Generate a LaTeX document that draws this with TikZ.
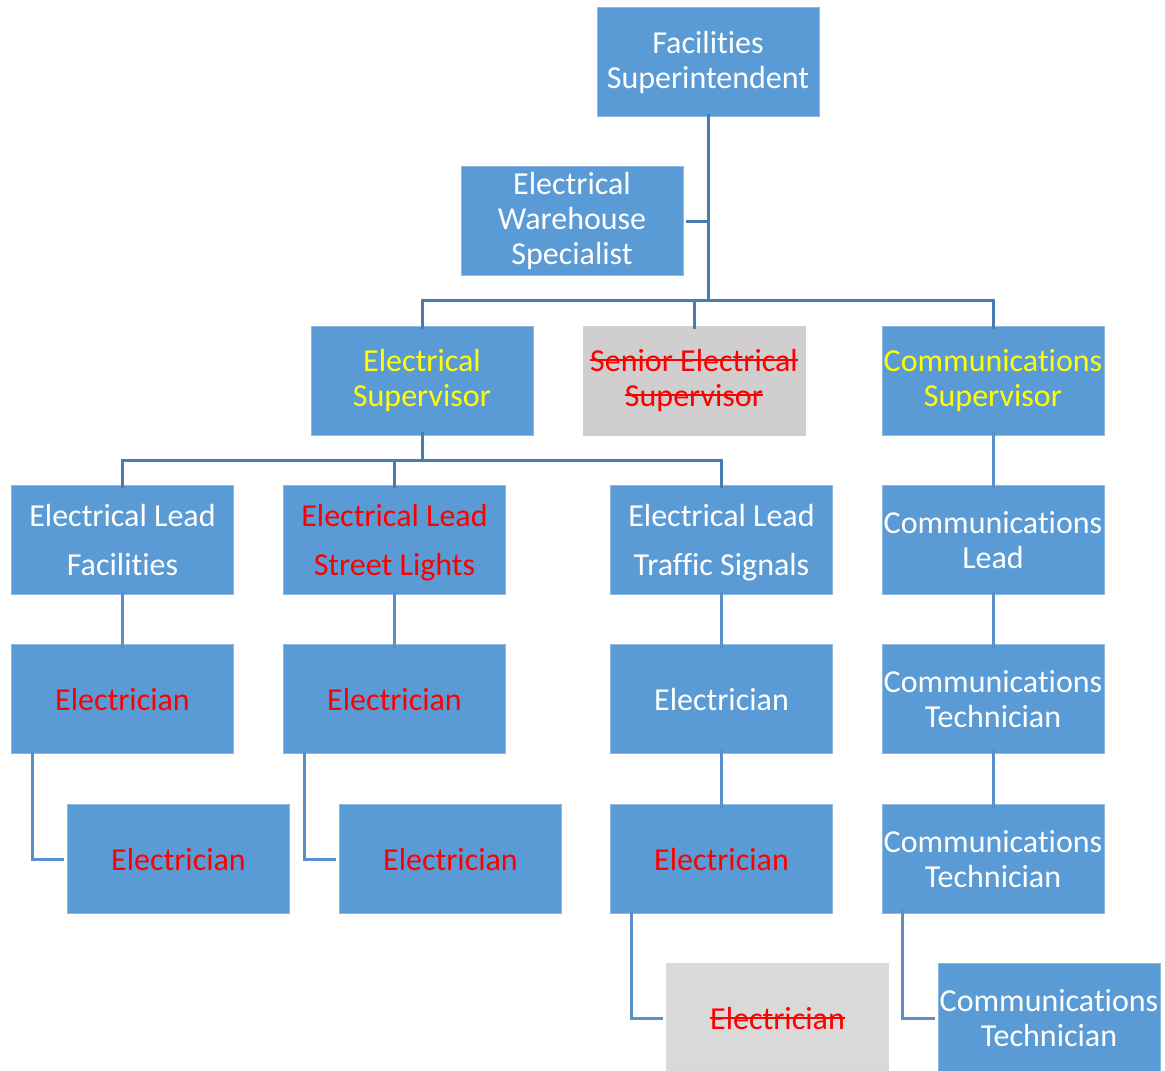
\documentclass[tikz,border=0pt]{standalone}
\usepackage{fontspec}
\setmainfont{Carlito}[Ligatures={NoCommon,NoRare,NoContextual}]
\newcommand{\mystrike}[1]{\setbox0\hbox{#1}\rlap{\rule[0.32em]{\wd0}{1.8pt}}\box0}
\newcommand{\nodepth}[1]{\raisebox{0pt}[\height][0pt]{#1}}
\newcommand{\nt}{t\kern0pt }
\newcommand{\Comm}{Communica\nt{}ions}
\newcommand{\Facil}{Facili\nt{}ies}
\definecolor{boxblue}{HTML}{5B9BD5}
\definecolor{boxgray}{HTML}{D0CECE}
\definecolor{boxgrayb}{HTML}{D9D9D9}
\definecolor{linetop}{HTML}{4A7DAF}
\definecolor{linelow}{HTML}{5A8FC8}
\definecolor{txtyellow}{HTML}{FFFF00}
\definecolor{txtred}{HTML}{FF0000}
\tikzset{
  box/.style={rectangle, fill=boxblue, draw=boxblue!70!white, line width=0.8pt,
    minimum width=222pt, minimum height=109pt, inner sep=0pt, align=center,
    text=white, font=\fontsize{32}{35}\selectfont},
  graybox/.style={box, fill=boxgray, draw=boxgray},
  grayboxb/.style={box, fill=boxgrayb, draw=boxgrayb},
  redtxt/.style={text=txtred},
  yeltxt/.style={text=txtyellow},
  toplink/.style={draw=linetop, line width=3pt},
  lowlink/.style={draw=linelow, line width=3pt}
}
\begin{document}
\begin{tikzpicture}[x=1pt,y=-1pt]
\useasboundingbox (0,0) rectangle (1165,1071);
% nodes
\node[box] (fs) at (708,62) {\Facil\\Superintendent};
\node[box] (ews) at (572,221) {Electrical\\Warehouse\\Specialist};
\node[box, yeltxt] (es) at (422,380.5) {Electrical\\Supervisor};
\node[graybox, redtxt] (ss) at (694,380.5) {\mystrike{Senior Electrical}\\\mystrike{Supervisor}};
\node[box, yeltxt] (cs) at (993,380.5) {\Comm\\Supervisor};
\node[box] (lf) at (122.5,540) {Electrical Lead\\[14pt]\Facil};
\node[box, redtxt] (ls) at (394.5,540) {Electrical Lead\\[14pt]\nodepth{Street Lights}};
\node[box] (lt) at (721.5,540) {Electrical Lead\\[14pt]\nodepth{Traffic Signals}};
\node[box] (cl) at (993,540) {\Comm\\Lead};
\node[box, redtxt] (e1) at (122.5,699) {Electrician};
\node[box, redtxt] (e2) at (394.5,699) {Electrician};
\node[box] (e3) at (721.5,699) {Electrician};
\node[box] (ct1) at (993,699) {\Comm\\Technician};
\node[box, redtxt] (e1b) at (178.5,859) {Electrician};
\node[box, redtxt] (e2b) at (450.5,859) {Electrician};
\node[box, redtxt] (e3b) at (721.5,859) {Electrician};
\node[box] (ct2) at (993,859) {\Comm\\Technician};
\node[grayboxb, redtxt] (e3c) at (777.5,1018) {\mystrike{Electrician}};
\node[box] (ct3) at (1049,1018) {\Comm\\Technician};
% junctions
\coordinate (j1) at (708,300);
\coordinate (j2) at (422,460);
% top connectors
\draw[toplink] ([yshift=3]fs.south) -- (j1);
\draw[toplink] ([xshift=3]ews.east) -- (ews.east -| j1);
\draw[toplink] ([yshift=-3]es.north) |- (j1) -| ([yshift=-3]cs.north);
\draw[toplink] ([yshift=-3]ss.north) -- (ss.north |- j1);
\draw[toplink] ([yshift=3]es.south) -- (j2);
\draw[toplink] ([yshift=-3]lf.north) |- (j2) -| ([yshift=-3]lt.north);
\draw[toplink] ([yshift=-3]ls.north) -- (ls.north |- j2);
\draw[lowlink] ([yshift=3]cs.south) -- ([yshift=-3]cl.north);
% lower connectors
\draw[lowlink] ([yshift=4]lf.south) -- ([yshift=-4]e1.north);
\draw[lowlink] ([yshift=4]ls.south) -- ([yshift=-4]e2.north);
\draw[lowlink] ([yshift=4]lt.south) -- ([yshift=-4]e3.north);
\draw[lowlink] ([yshift=4]cl.south) -- ([yshift=-4]ct1.north);
\draw[lowlink] ([yshift=4]e3.south) -- ([yshift=-4]e3b.north);
\draw[lowlink] ([yshift=4]ct1.south) -- ([yshift=-4]ct2.north);
\draw[lowlink] ([xshift=21,yshift=4]e1.south west) |- ([xshift=-3]e1b.west);
\draw[lowlink] ([xshift=21,yshift=4]e2.south west) |- ([xshift=-3]e2b.west);
\draw[lowlink] ([xshift=21,yshift=4]e3b.south west) |- ([xshift=-3]e3c.west);
\draw[lowlink] ([xshift=21,yshift=4]ct2.south west) |- ([xshift=-3]ct3.west);
\end{tikzpicture}
\end{document}
